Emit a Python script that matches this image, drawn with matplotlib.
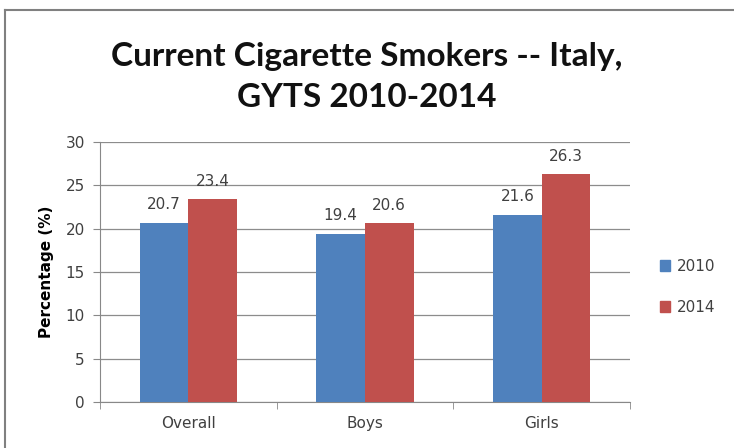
import matplotlib
matplotlib.use("Agg")
import matplotlib.pyplot as plt
import numpy as np
from matplotlib.patches import Rectangle
from matplotlib.lines import Line2D

categories = ["Overall", "Boys", "Girls"]
series_names = ["2010", "2014"]
values_2010 = [20.7, 19.4, 21.6]
values_2014 = [23.4, 20.6, 26.3]
yticks = [0, 5, 10, 15, 20, 25, 30]
title = "Current Cigarette Smokers -- Italy,\nGYTS 2010-2014"
ylabel = "Percentage (%)"

colors = ["#4F81BD", "#C0504D"]
txt = "#404040"

fig = plt.figure(figsize=(7.34, 4.48), dpi=100)
ax = fig.add_axes([100/734, 1-402/448, 530/734, 260/448])

x = np.arange(len(categories))
w = 0.275
for i, (vals, name) in enumerate(zip([values_2010, values_2014], series_names)):
    pos = x + (i - 0.5) * w
    ax.bar(pos, vals, width=w, color=colors[i], label=name, zorder=3)
    for p, v in zip(pos, vals):
        ax.text(p, v + 1.2, f"{v}", ha="center", va="bottom", fontsize=11,
                color=txt, family="DejaVu Sans")

ax.set_xlim(-0.5, len(categories) - 0.5)
ax.set_ylim(0, 30)
ax.set_yticks(yticks)
ax.set_yticklabels([str(t) for t in yticks], fontsize=11, color=txt)
ax.set_xticks(x)
ax.set_xticklabels(categories, fontsize=11, color=txt)
ax.set_xticks(np.arange(-0.5, len(categories), 1), minor=True)
ax.tick_params(axis="x", which="major", length=0, pad=10)
ax.tick_params(axis="x", which="minor", length=5, color="#888888", direction="out")
ax.tick_params(axis="y", length=5, color="#888888", direction="out", pad=6)
ax.grid(axis="y", color="#8c8c8c", linewidth=0.9, zorder=0)
for s in ["top", "right"]:
    ax.spines[s].set_visible(False)
for s in ["left", "bottom"]:
    ax.spines[s].set_color("#888888")
ax.set_ylabel(ylabel, fontsize=11, fontweight="bold", color="black", labelpad=8)

fig.text(0.5, 1-77/448, title, ha="center", va="center", fontsize=24,
         fontweight="bold", family="Lato", linespacing=1.5, color="#111111")

handles = [Rectangle((0, 0), 1, 1, color=c) for c in colors]
fig.legend(handles, series_names, loc="center left", bbox_to_anchor=(0.88, 1-287/448),
           frameon=False, fontsize=11, handlelength=0.7, handleheight=0.7,
           labelspacing=1.7, handletextpad=0.4, labelcolor=txt)

# chart border
fig.add_artist(Line2D([5/734, 5/734], [0, 1-10/448], transform=fig.transFigure,
                      color="#808080", linewidth=1.5))
fig.add_artist(Line2D([5/734, 1], [1-10/448, 1-10/448], transform=fig.transFigure,
                      color="#808080", linewidth=1.5))

fig.savefig("out.png", dpi=100)
